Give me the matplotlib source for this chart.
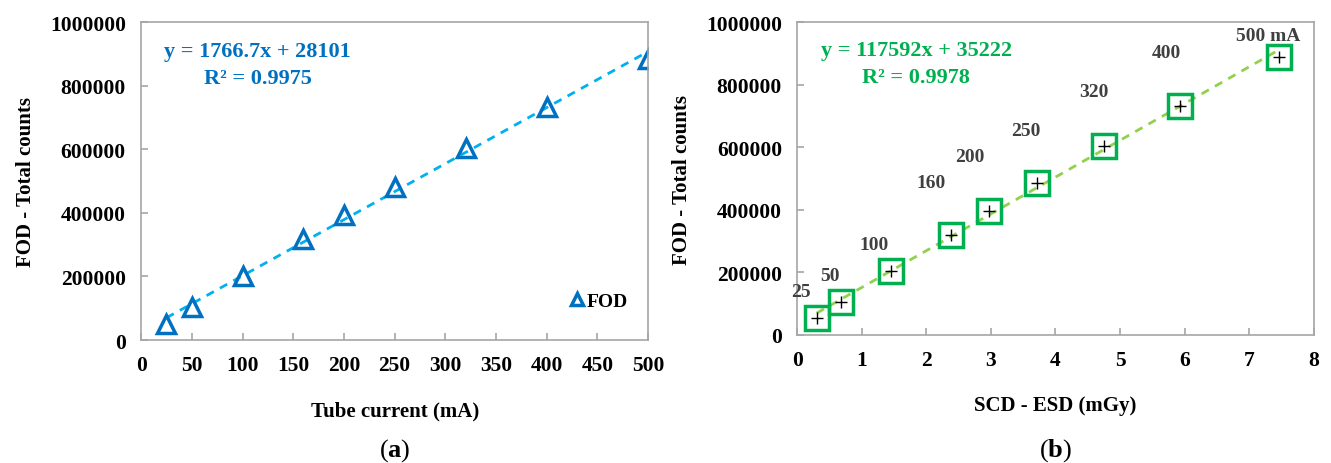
import matplotlib.pyplot as plt
import numpy as np
from matplotlib.ticker import FuncFormatter

plt.rcParams['font.family'] = ['Liberation Serif', 'DejaVu Serif']
plt.rcParams['font.weight'] = 'bold'
plt.rcParams['mathtext.fontset'] = 'custom'
plt.rcParams['mathtext.bf'] = 'Liberation Serif:bold'
plt.rcParams['mathtext.rm'] = 'Liberation Serif'

# data
tube_current = [25, 50, 100, 160, 200, 250, 320, 400, 500]
fod_a = [50000, 105000, 203000, 318000, 393000, 480000, 603000, 733000, 885000]
esd = [0.30, 0.68, 1.45, 2.38, 2.97, 3.71, 4.75, 5.93, 7.46]
fod_b = [54000, 105000, 205000, 320000, 396000, 485000, 605000, 733000, 890000]
labels_b = ["25", "50", "100", "160", "200", "250", "320", "400", "500 mA"]
label_off = [(-11, 19), (-8, 19), (-12, 19), (-14, 38), (-14, 39), (-8, 38), (-7, 39), (-10, 38), (-8, 15)]

eq_a = "y = 1766.7x + 28101"
r2_a = "R² = 0.9975"
eq_b = "y = 117592x + 35222"
r2_b = "R² = 0.9978"

blue = "#0070C0"
lblue = "#00B0F0"
green = "#00B050"
lgreen = "#92D050"
gray = "#A6A6A6"

fig = plt.figure(figsize=(13.31, 4.64), dpi=100)
ax1 = fig.add_axes([0.106, 0.265, 0.381, 0.685])
ax2 = fig.add_axes([0.599, 0.276, 0.388, 0.674])

def style(ax):
    for s in ax.spines.values():
        s.set_color(gray)
        s.set_linewidth(1.2)
    ax.tick_params(direction='in', length=5, width=1.2, color=gray, labelsize=15.5, pad=11)
    ax.set_ylim(0, 1000000)
    ax.set_yticks(np.arange(0, 1000001, 200000))
    ax.yaxis.set_major_formatter(FuncFormatter(lambda v, p: "%d" % v))
    ax.set_ylabel("FOD - Total counts", fontsize=15, fontweight='bold', labelpad=10)

# panel a
z = np.polyfit(tube_current, fod_a, 1)
xt = np.array([tube_current[0], tube_current[-1]])
ax1.plot(xt, np.poly1d(z)(xt), ls=(0, (3, 2.5)), color=lblue, lw=2)
ax1.plot(tube_current, fod_a, ls='', marker='^', ms=13, mfc='none', mec=blue, mew=2.5, label="FOD")
ax1.set_xlim(0, 500)
ax1.set_xticks(np.arange(0, 501, 50))
style(ax1)
ax1.set_xlabel("Tube current (mA)", fontsize=15, fontweight='bold', labelpad=18)
ax1.text(0.045, 0.91, eq_a, transform=ax1.transAxes, color=blue, fontsize=16, va='center')
ax1.text(0.125, 0.825, r2_a, transform=ax1.transAxes, color=blue, fontsize=16, va='center')
leg = ax1.legend(loc='lower right', bbox_to_anchor=(0.995, 0.04), frameon=False, fontsize=14,
                 handletextpad=0.0, handlelength=1.0, markerscale=0.7)
ax1.text(0.5, -0.345, r"($\mathbf{a}$)", transform=ax1.transAxes, fontsize=19, fontweight='normal',
         ha='center', va='center')

# panel b
z = np.polyfit(esd, fod_b, 1)
xt = np.array([esd[0], esd[-1]])
ax2.plot(xt, np.poly1d(z)(xt), ls=(0, (3, 2.5)), color=lgreen, lw=2)
ax2.plot(esd, fod_b, ls='', marker='s', ms=17, mfc='none', mec=green, mew=2.5)
ax2.plot(esd, fod_b, ls='', marker='+', ms=8, color='black', mew=1)
for x, y, t, off in zip(esd, fod_b, labels_b, label_off):
    ax2.annotate(t, (x, y), xytext=off, textcoords='offset points', ha='center', va='center',
                 fontsize=14, color='#404040')
ax2.set_xlim(0, 8)
ax2.set_xticks(np.arange(0, 9, 1))
style(ax2)
ax2.set_xlabel("SCD - ESD (mGy)", fontsize=15, fontweight='bold', labelpad=18)
ax2.text(0.045, 0.91, eq_b, transform=ax2.transAxes, color=green, fontsize=16, va='center')
ax2.text(0.125, 0.825, r2_b, transform=ax2.transAxes, color=green, fontsize=16, va='center')
ax2.text(0.5, -0.365, r"($\mathbf{b}$)", transform=ax2.transAxes, fontsize=19, fontweight='normal',
         ha='center', va='center')

fig.savefig("out.png", dpi=100)
